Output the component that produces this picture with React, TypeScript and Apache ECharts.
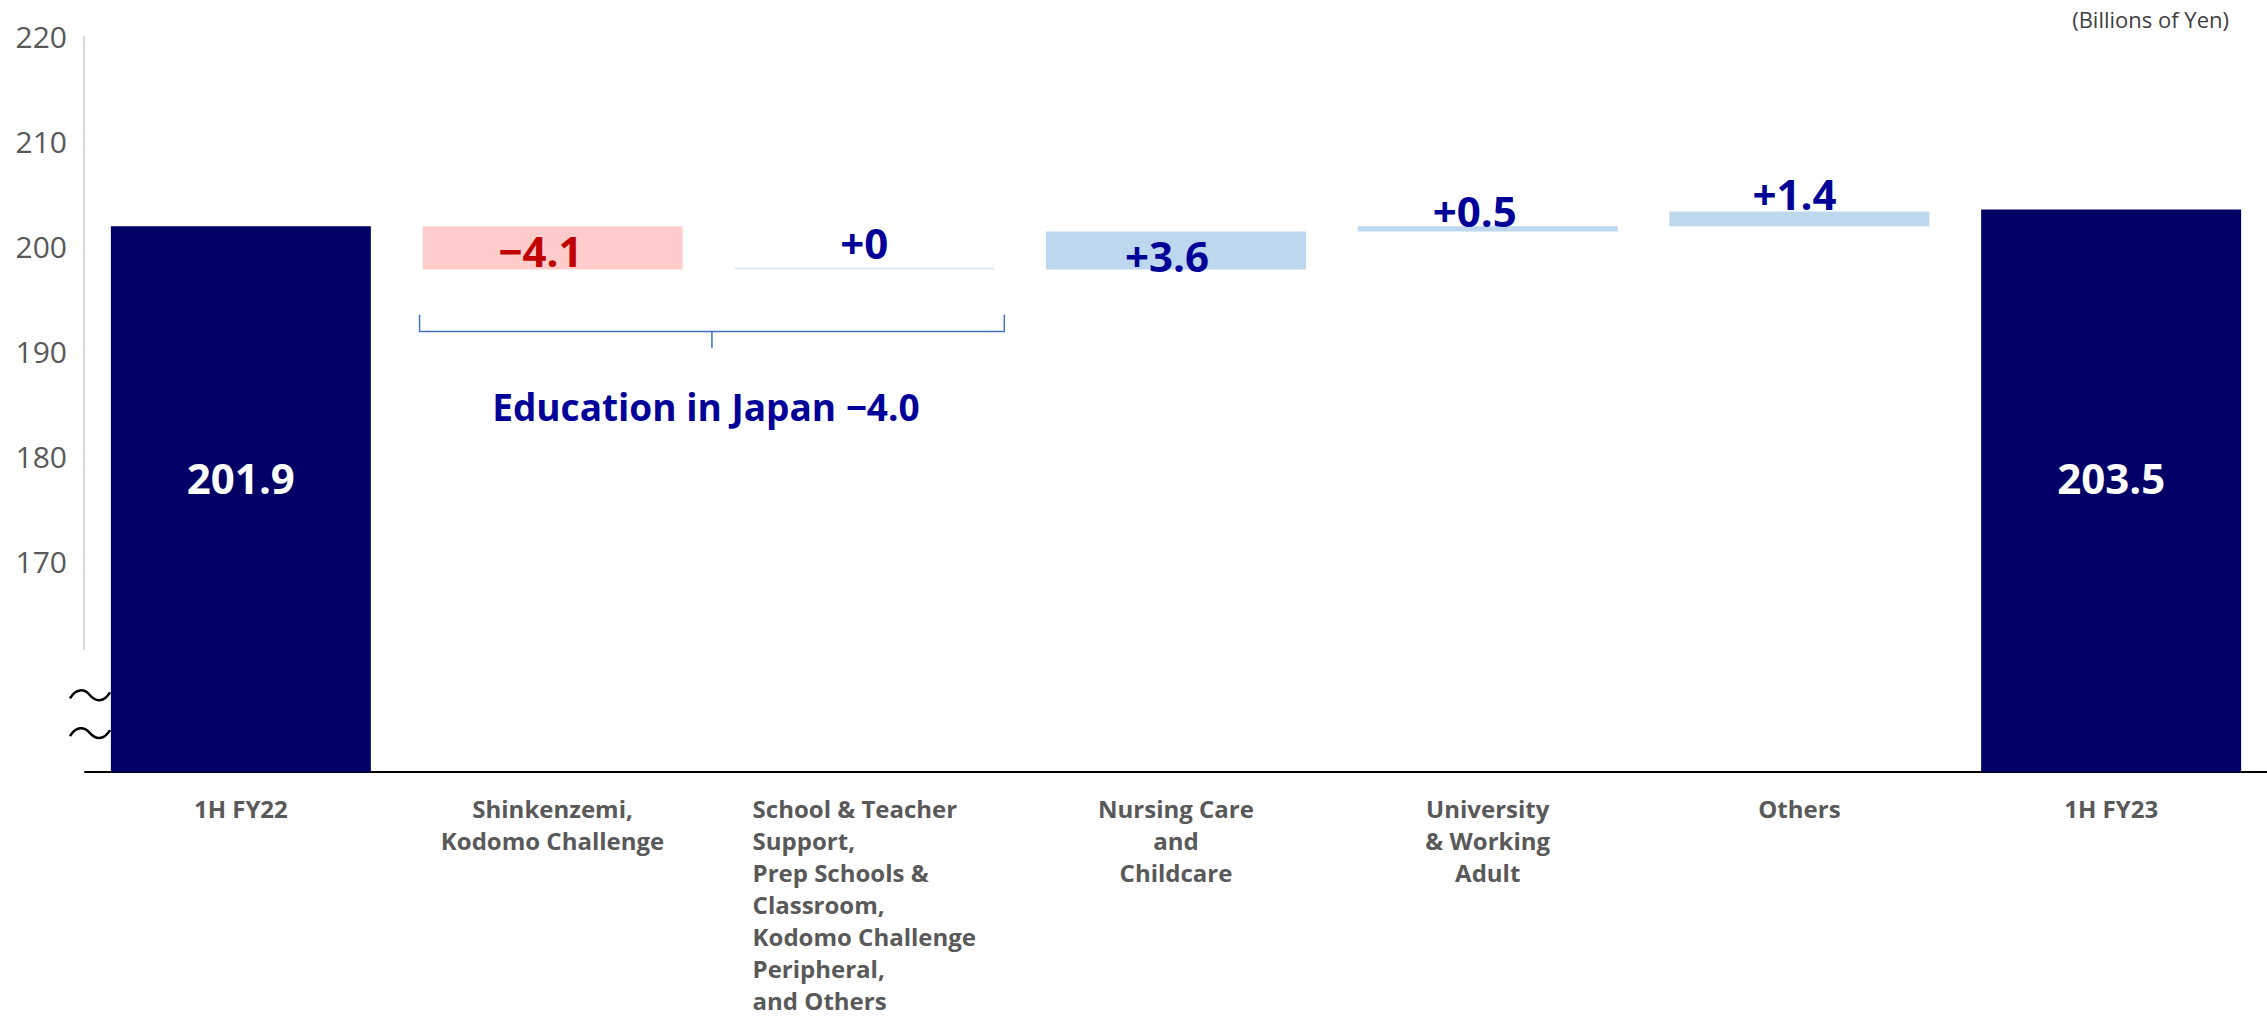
import React, { useEffect, useRef } from 'react';
import * as echarts from 'echarts';

// ---------- data ----------
const categories = [
  '1H FY22',
  'Shinkenzemi,\nKodomo Challenge',
  'School & Teacher\nSupport,\nPrep Schools &\nClassroom,\nKodomo Challenge\nPeripheral,\nand Others',
  'Nursing Care\nand\nChildcare',
  'University\n& Working\nAdult',
  'Others',
  '1H FY23',
];
const startTotal = 201.9;
const deltas = [-4.1, 0, 3.6, 0.5, 1.4];
const endTotal = 203.5;
const yMin = 150;
const yMax = 220;
const yInterval = 10;
const firstShownTick = 170;
const groupLabel = 'Education in Japan \u22124.0';
const unitLabel = '(Billions of Yen)';

// ---------- derived waterfall ----------
const r1 = (v: number) => Math.round(v * 10) / 10;
const baseVals: number[] = [0];
const visVals: number[] = [startTotal];
const kinds: string[] = ['total'];
{
  let run = startTotal;
  for (const d of deltas) {
    if (d < 0) {
      run = r1(run + d);
      baseVals.push(run);
      visVals.push(-d);
      kinds.push('neg');
    } else {
      baseVals.push(run);
      visVals.push(d);
      kinds.push(d === 0 ? 'zero' : 'pos');
      run = r1(run + d);
    }
  }
  baseVals.push(0);
  visVals.push(endTotal);
  kinds.push('total');
}
const labelTexts = kinds.map((k, i) => {
  const v = visVals[i];
  if (k === 'total') return v.toFixed(1);
  if (k === 'neg') return '\u2212' + v.toFixed(1);
  if (k === 'zero') return '+0';
  return '+' + v.toFixed(1);
});

const FONT = '"Open Sans", "Noto Sans", sans-serif';
const NAVY = '#000066';
const BLUE_TXT = '#000099';

const colorOf: Record<string, string> = {
  total: NAVY,
  neg: '#FFCCCC',
  zero: '#DDEBF7',
  pos: '#BDD7EE',
};

// per-bar label placement (style only)
const labelPlacement: any[] = [
  { position: 'insideBottom', distance: 270, color: '#FFFFFF' },
  { position: 'inside', offset: [-12, 3], color: '#C00000' },
  { position: 'top', distance: 4, color: BLUE_TXT },
  { position: 'inside', offset: [-9, 5], color: BLUE_TXT },
  { position: 'top', distance: -5, offset: [-13, 0], color: BLUE_TXT },
  { position: 'top', distance: -3, offset: [-5, 0], color: BLUE_TXT },
  { position: 'insideBottom', distance: 270, color: '#FFFFFF' },
];

const tildeD = 'M0,9 C6,-1 14,-1 20,6 C26,13 34,13 40,3';

export default function App() {
  const ref = useRef<HTMLDivElement>(null);
  useEffect(() => {
    if (!ref.current) return;
    try {
      echarts.graphic.registerShape('tilde', echarts.graphic.extendPath(tildeD, {}) as any);
    } catch (e) {}
    const chart = echarts.init(ref.current, null, { renderer: 'svg' });
    const option: any = {
      animation: false,
      grid: { left: 85, top: 36, width: 2184, height: 744 },
      xAxis: {
        type: 'category',
        data: categories,
        axisLine: { show: true, lineStyle: { color: '#000000', width: 2 } },
        axisTick: { show: false },
        axisLabel: {
          interval: 0,
          margin: 20,
          color: '#595959',
          fontFamily: FONT,
          fontWeight: 'bold',
          fontSize: 24,
          lineHeight: 32,
          formatter: (val: string, idx: number) =>
            idx === 2
              ? val.split('\n').map((s) => `{l|${s}}`).join('\n')
              : val,
          rich: {
            l: {
              align: 'left',
              color: '#595959',
              fontFamily: FONT,
              fontWeight: 'bold',
              fontSize: 24,
              lineHeight: 32,
            },
          },
        },
      },
      yAxis: {
        type: 'value',
        min: yMin,
        max: yMax,
        interval: yInterval,
        axisLine: { show: false },
        axisTick: { show: false },
        splitLine: { show: false },
        axisLabel: {
          color: '#595959',
          fontFamily: FONT,
          fontSize: 30,
          margin: 18,
          formatter: (v: number) => (v >= firstShownTick ? String(v) : ''),
        },
      },
      series: [
        {
          type: 'bar',
          stack: 'wf',
          barWidth: 260,
          itemStyle: { color: 'transparent' },
          emphasis: { disabled: true },
          data: baseVals,
        },
        {
          type: 'bar',
          stack: 'wf',
          barWidth: 260,
          barMinHeight: 2,
          emphasis: { disabled: true },
          data: visVals.map((v, i) => ({
            value: v,
            itemStyle: { color: colorOf[kinds[i]] },
            label: {
              show: true,
              formatter: () => labelTexts[i],
              fontFamily: FONT,
              fontWeight: 'bold',
              fontSize: 42,
              lineHeight: kinds[i] === 'total' ? 50 : 42,
              ...labelPlacement[i],
            },
          })),
        },
      ],
    };
    chart.setOption(option);

    const px = (cat: number, v: number) =>
      chart.convertToPixel({ xAxisIndex: 0, yAxisIndex: 0 }, [cat, v]) as number[];

    const [c1x] = px(1, 193.5);
    const [c2x] = px(2, 193.5);
    const yTop = px(1, 193.5)[1];
    const yMid = px(1, 191.9)[1];
    const yTick = px(1, 190.3)[1];
    const yText = px(1, 184.8)[1];
    const bl = c1x - 133;
    const br = c2x + 140;
    const bm = (bl + br) / 2;

    const axisTopY = px(0, yMax)[1];
    const axisBotY = px(0, 161.6)[1];
    const gridLeft = 84;
    const t1 = px(0, 157.2)[1];
    const t2 = px(0, 153.6)[1];
    const blue = '#4472C4';

    chart.setOption({
      graphic: [
        {
          type: 'line',
          shape: { x1: gridLeft, y1: axisTopY, x2: gridLeft, y2: axisBotY },
          style: { stroke: '#D9D9D9', lineWidth: 2 },
        },
        {
          type: 'polyline',
          shape: { points: [[bl, yTop], [bl, yMid], [br, yMid], [br, yTop]] },
          style: { stroke: blue, lineWidth: 1.5, fill: null },
        },
        {
          type: 'line',
          shape: { x1: bm, y1: yMid, x2: bm, y2: yTick },
          style: { stroke: blue, lineWidth: 1.5 },
        },
        {
          type: 'text',
          x: bm - 6,
          y: yText,
          style: {
            text: groupLabel,
            fill: BLUE_TXT,
            font: `bold 37px ${FONT}`,
            textAlign: 'center',
            textVerticalAlign: 'middle',
          },
        },
        {
          type: 'tilde',
          x: 70,
          y: t1 - 7,
          style: { stroke: '#000000', lineWidth: 2.5, fill: null },
        },
        {
          type: 'tilde',
          x: 70,
          y: t2 - 7,
          style: { stroke: '#000000', lineWidth: 2.5, fill: null },
        },
        {
          type: 'text',
          x: 2229,
          y: 19,
          style: {
            text: unitLabel,
            fill: '#404040',
            font: `22px ${FONT}`,
            textAlign: 'right',
            textVerticalAlign: 'middle',
          },
        },
      ],
    });

    return () => chart.dispose();
  }, []);
  return (
    <div
      ref={ref}
      style={{ position: 'absolute', left: 0, top: 0, width: 2267, height: 1016, background: '#fff' }}
    />
  );
}
